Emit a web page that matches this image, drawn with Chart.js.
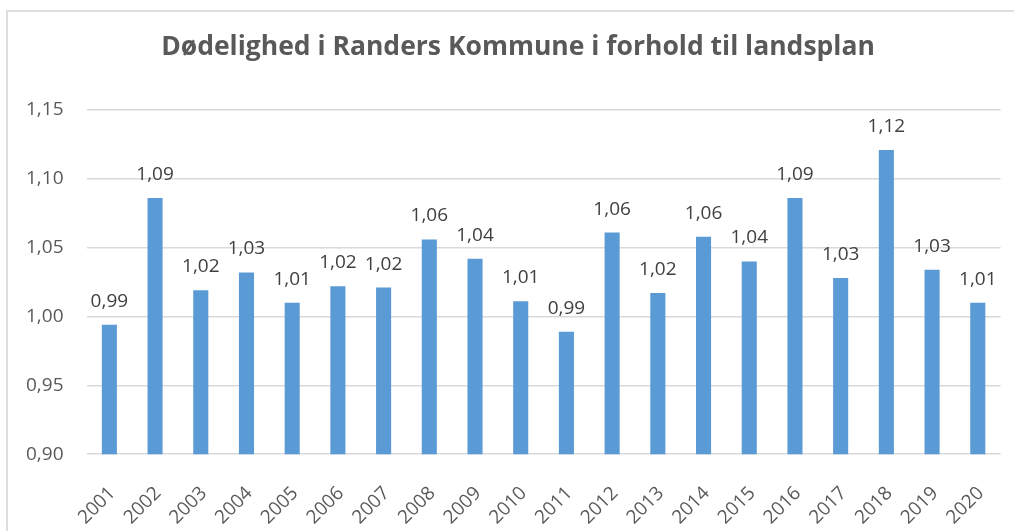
<!DOCTYPE html>
<html>
<head>
<meta charset="utf-8">
<script src="https://cdn.jsdelivr.net/npm/chart.js@4"></script>
<style>
  html, body { margin: 0; padding: 0; background: #fff; overflow: hidden; }
  #wrap { position: relative; width: 1014px; height: 531px; overflow: hidden; }
  #frame {
    position: absolute; left: 6px; top: 10px; width: 1100px; height: 700px;
    border: 2px solid #dedede; pointer-events: none;
  }
</style>
</head>
<body>
<div id="wrap">
  <canvas id="chart" width="1014" height="549"></canvas>
  <div id="frame"></div>
</div>
<script>
// år og dødelighedsratio
const years = ["2001", "2002", "2003", "2004", "2005", "2006", "2007", "2008", "2009", "2010",
  "2011", "2012", "2013", "2014", "2015", "2016", "2017", "2018", "2019", "2020"];
const ratio = [0.994, 1.086, 1.019, 1.032, 1.010, 1.022, 1.021, 1.056, 1.042, 1.011,
  0.989, 1.061, 1.017, 1.058, 1.040, 1.086, 1.028, 1.121, 1.034, 1.010];
const yTicks = [0.90, 0.95, 1.00, 1.05, 1.10, 1.15];
const titleText = "Dødelighed i Randers Kommune i forhold til landsplan";

const fmt = (v) => v.toFixed(2).replace(".", ",");
const FONT = "'Open Sans', 'Noto Sans', sans-serif";

// titel midt over rammen, værdier over hver søjle
const labelsPlugin = {
  id: "labelsPlugin",
  afterDatasetsDraw(chart) {
    const ctx = chart.ctx;
    const meta = chart.getDatasetMeta(0);
    ctx.save();
    ctx.font = "19px " + FONT;
    ctx.fillStyle = "#404040";
    ctx.textAlign = "center";
    ctx.textBaseline = "alphabetic";
    meta.data.forEach((bar, i) => {
      ctx.fillText(fmt(ratio[i]), bar.x, bar.y - 18);
    });
    ctx.restore();
  },
  afterDraw(chart) {
    const ctx = chart.ctx;
    ctx.save();
    ctx.font = "bold 26.5px " + FONT;
    ctx.fillStyle = "#595959";
    ctx.textAlign = "center";
    ctx.textBaseline = "middle";
    ctx.fillText(titleText, 518, 47);
    ctx.restore();
  },
};

new Chart(document.getElementById("chart"), {
  type: "bar",
  data: {
    labels: years,
    datasets: [
      {
        data: ratio,
        backgroundColor: "#5B9BD5",
        borderWidth: 0,
        barPercentage: 0.33,
        categoryPercentage: 1,
      },
    ],
  },
  options: {
    responsive: false,
    animation: false,
    layout: {
      padding: { top: 110, left: 3, right: 4, bottom: 0 },
    },
    plugins: {
      legend: { display: false },
      tooltip: { enabled: false },
      title: { display: false },
    },
    scales: {
      x: {
        grid: { display: false },
        border: { display: false },
        ticks: {
          color: "#595959",
          font: { family: FONT, size: 19 },
          maxRotation: 45,
          minRotation: 45,
          padding: 20,
          labelOffset: 3,
        },
      },
      y: {
        min: 0.9,
        max: 1.15,
        afterBuildTicks(axis) {
          axis.ticks = yTicks.map((v) => ({ value: v }));
        },
        grid: { color: "#d9d9d9", lineWidth: 1.5, drawTicks: false },
        border: { display: false },
        ticks: {
          color: "#595959",
          font: { family: FONT, size: 19 },
          padding: 23,
          callback: (v) => fmt(v),
        },
      },
    },
  },
  plugins: [labelsPlugin],
});
</script>
</body>
</html>
